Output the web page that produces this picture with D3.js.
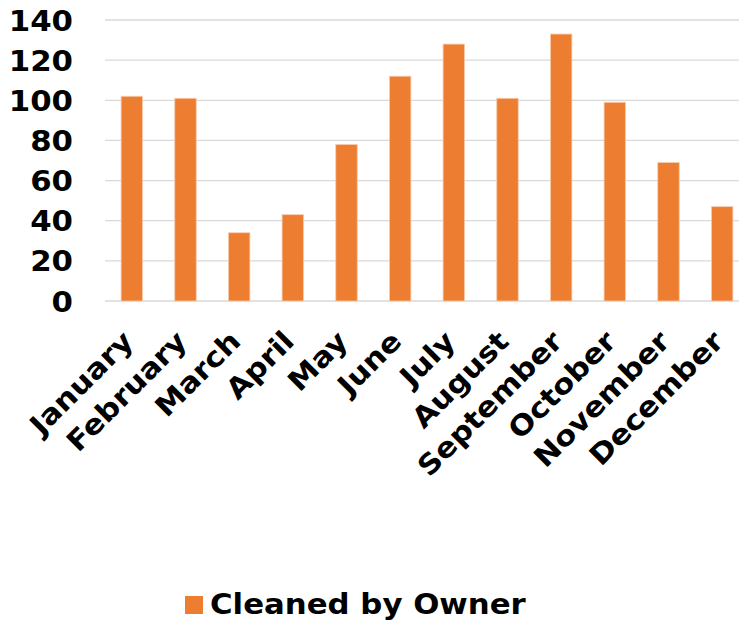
<!DOCTYPE html>
<html>
<head>
<meta charset="utf-8">
<script src="https://cdn.jsdelivr.net/npm/d3@7"></script>
<style>
html,body{margin:0;padding:0;background:#fff;}
svg{display:block;}
text{font-family:"DejaVu Sans",Verdana,sans-serif;font-weight:bold;fill:#000;}
</style>
</head>
<body>
<svg id="chart" width="739" height="625"></svg>
<script>
const months = ["January","February","March","April","May","June","July","August","September","October","November","December"];
const cleanedByOwner = [102,101,34,43,78,112,128,101,133,99,69,47];
const yTicks = [0,20,40,60,80,100,120,140];
const seriesName = "Cleaned by Owner";
const barColor = "#ED7D31";

const svg = d3.select("#chart");
const plotLeft = 105, plotRight = 749, plotTop = 20, plotBottom = 301;

const x = d3.scaleBand().domain(months).range([plotLeft, plotRight]).paddingInner(0.6).paddingOuter(0.3);
const y = d3.scaleLinear().domain([0,140]).range([plotBottom, plotTop]);

// gridlines
svg.append("g").selectAll("line").data(yTicks).join("line")
  .attr("x1", plotLeft).attr("x2", 739)
  .attr("y1", d => y(d)).attr("y2", d => y(d))
  .attr("stroke", "#d9d9d9").attr("stroke-width", 1.3);

// y labels
const yAxis = d3.axisLeft(y).tickValues(yTicks).tickSize(0).tickPadding(0);
const gy = svg.append("g").attr("transform", `translate(${plotLeft-32},0)`).call(yAxis);
gy.select(".domain").remove();
gy.selectAll("text").style("font-size","28px").style("font-family","'DejaVu Sans',Verdana,sans-serif").style("font-weight","bold").attr("fill","#000")
  .attr("x", 0).attr("dy","0.36em").attr("transform","scale(1.1,1)");

// bars
svg.append("g").selectAll("rect").data(cleanedByOwner).join("rect")
  .attr("x", (d,i) => x(months[i]))
  .attr("width", x.bandwidth())
  .attr("y", d => y(d))
  .attr("height", d => y(0) - y(d))
  .attr("fill", barColor)
  .attr("stroke", "#f8cbad").attr("stroke-width", 0.8);

// x labels
const xAxis = d3.axisBottom(x).tickSize(0).tickPadding(0);
const gx = svg.append("g").attr("transform", `translate(0,${plotBottom})`).call(xAxis);
gx.select(".domain").remove();
gx.selectAll("text")
  .style("font-size","28px").style("font-family","'DejaVu Sans',Verdana,sans-serif").style("font-weight","bold").attr("fill","#000")
  .attr("text-anchor","end")
  .attr("dy", null).attr("y", 0)
  .attr("transform", "translate(3,42) rotate(-45) scale(1.1,1)");

// legend
const lg = svg.append("g");
lg.append("rect").attr("x",185).attr("y",596).attr("width",18).attr("height",18).attr("fill",barColor);
lg.append("text").attr("transform","translate(210,614) scale(1.1,1)").style("font-size","28px").text(seriesName);
</script>
</body>
</html>
